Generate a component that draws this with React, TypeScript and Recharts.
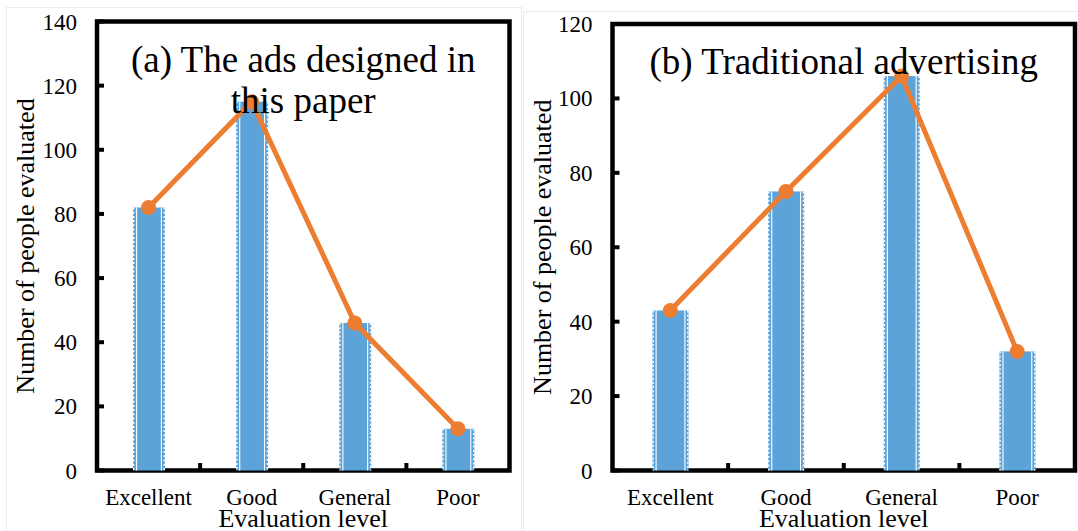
import React from 'react';
import { ComposedChart, Bar, Line, XAxis, YAxis, ReferenceArea, Label } from 'recharts';

const categories = ['Excellent', 'Good', 'General', 'Poor'];
const valuesA = [82, 115, 46, 13];
const valuesB = [43, 75, 106, 32];
const yTicksA = [0, 20, 40, 60, 80, 100, 120, 140];
const yTicksB = [0, 20, 40, 60, 80, 100, 120];
const titleA = ['(a) The ads designed in', 'this paper'];
const titleB = ['(b) Traditional advertising'];
const yTitle = 'Number of people evaluated';
const xTitle = 'Evaluation level';

const FONT = '"Liberation Serif", "Times New Roman", serif';
const BLUE = '#5BA3D8';
const ORANGE = '#ED7D31';

const buildData = (vals: number[]) => categories.map((c, i) => ({ name: c, pos: i + 0.5, value: vals[i] }));
const xTicks = categories.flatMap((_, i) => (i === 0 ? [i + 0.5] : [i, i + 0.5]));

const BarShape = (props: any) => {
  const { x, y, width, height } = props;
  if (!height || height <= 0) return null;
  return (
    <g>
      <rect x={x} y={y} width={width} height={height} fill={BLUE} />
      <line x1={x + 0.7} x2={x + 0.7} y1={y} y2={y + height} stroke="#fff" strokeWidth={1.4} strokeDasharray="2 2.2" />
      <line x1={x + width - 0.7} x2={x + width - 0.7} y1={y} y2={y + height} stroke="#fff" strokeWidth={1.4} strokeDasharray="2 2.2" />
      <line x1={x + 3.6} x2={x + 3.6} y1={y} y2={y + height} stroke="#fff" strokeWidth={1.1} />
      <line x1={x + width - 3.6} x2={x + width - 3.6} y1={y} y2={y + height} stroke="#fff" strokeWidth={1.1} />
    </g>
  );
};

const XTick = (props: any) => {
  const { x, y, payload } = props;
  const v = payload.value as number;
  if (Number.isInteger(v)) {
    return <line x1={x} x2={x} y1={y} y2={y - 7.5} stroke="#000" strokeWidth={4} />;
  }
  const label = categories[Math.round(v - 0.5)];
  return (
    <text x={x} y={y + 34} textAnchor="middle" fontFamily={FONT} fontSize={23} fill="#000">
      {label}
    </text>
  );
};

const YTick = (props: any) => {
  const { x, y, payload } = props;
  return (
    <g>
      <line x1={x} x2={x + 7} y1={y} y2={y} stroke="#000" strokeWidth={4} />
      <text x={x - 20} y={y} dy="0.35em" textAnchor="end" fontFamily={FONT} fontSize={23} fill="#000">
        {payload.value}
      </text>
    </g>
  );
};

type PanelProps = {
  left: number;
  width: number;
  values: number[];
  yTicks: number[];
  yMax: number;
  yAxisWidth: number;
  marginTop: number;
  marginRight: number;
  barSize: number;
  yTitleX: number;
  title: string[];
  titleBaseline: number;
};

const Panel = (p: PanelProps) => {
  const data = buildData(p.values);
  const plotLeft = p.yAxisWidth;
  const plotWidth = p.width - p.yAxisWidth - p.marginRight;
  return (
    <div style={{ position: 'absolute', left: p.left, top: 0, width: p.width, height: 531 }}>
      <ComposedChart
        width={p.width}
        height={531}
        data={data}
        margin={{ top: p.marginTop, right: p.marginRight, bottom: 0.5, left: 0 }}
      >
        <XAxis
          dataKey="pos"
          type="number"
          domain={[0, categories.length]}
          ticks={xTicks}
          interval={0}
          tickLine={false}
          axisLine={false}
          tickSize={0}
          tickMargin={0}
          height={60}
          tick={<XTick />}
          allowDecimals
        >
          <Label
            content={(lp: any) => {
              const vb = lp.viewBox;
              return (
                <text x={vb.x + vb.width / 2} y={vb.y + 56.5} textAnchor="middle" fontFamily={FONT} fontSize={26} fill="#000">
                  {xTitle}
                </text>
              );
            }}
          />
        </XAxis>
        <YAxis
          type="number"
          domain={[0, p.yMax]}
          ticks={p.yTicks}
          interval={0}
          tickLine={false}
          axisLine={false}
          tickSize={0}
          tickMargin={0}
          width={p.yAxisWidth}
          tick={<YTick />}
        >
          <Label
            content={(lp: any) => {
              const vb = lp.viewBox;
              const cx = p.yTitleX;
              const cy = vb.y + vb.height / 2;
              return (
                <text
                  x={cx}
                  y={cy}
                  dy="0.35em"
                  transform={`rotate(-90, ${cx}, ${cy})`}
                  textAnchor="middle"
                  fontFamily={FONT}
                  fontSize={26}
                  fill="#000"
                >
                  {yTitle}
                </text>
              );
            }}
          />
        </YAxis>
        <Bar dataKey="value" barSize={p.barSize} shape={<BarShape />} isAnimationActive={false} />
        <ReferenceArea x1={0} x2={categories.length} y1={0} y2={p.yMax} fill="none" fillOpacity={0} stroke="#000" strokeWidth={4.5} />
        <Line
          dataKey="value"
          type="linear"
          stroke={ORANGE}
          strokeWidth={5}
          dot={{ r: 7.5, fill: ORANGE, stroke: 'none' }}
          activeDot={false}
          isAnimationActive={false}
        />
      </ComposedChart>
      <div
        style={{
          position: 'absolute',
          left: plotLeft,
          width: plotWidth,
          top: p.titleBaseline - 33,
          textAlign: 'center',
          fontFamily: FONT,
          fontSize: 37,
          lineHeight: '41px',
          color: '#000',
          pointerEvents: 'none',
          whiteSpace: 'nowrap',
        }}
      >
        {p.title.map((t, i) => (
          <div key={i}>{t}</div>
        ))}
      </div>
    </div>
  );
};

export default function App() {
  return (
    <div style={{ position: 'absolute', left: 0, top: 0, width: 1078, height: 531, background: '#fff', overflow: 'hidden' }}>
      <div style={{ position: 'absolute', left: 6, top: 7, width: 514, height: 540, border: '1.5px solid #ececec' }} />
      <div style={{ position: 'absolute', left: 523, top: 11, width: 570, height: 540, border: '1.5px solid #ececec' }} />
      <Panel
        left={0}
        width={520}
        values={valuesA}
        yTicks={yTicksA}
        yMax={140}
        yAxisWidth={97}
        marginTop={21.5}
        marginRight={10.5}
        barSize={32}
        yTitleX={25}
        title={titleA}
        titleBaseline={72}
      />
      <Panel
        left={520}
        width={558}
        values={valuesB}
        yTicks={yTicksB}
        yMax={120}
        yAxisWidth={92.5}
        marginTop={24}
        marginRight={3}
        barSize={36}
        yTitleX={22}
        title={titleB}
        titleBaseline={74}
      />
    </div>
  );
}
